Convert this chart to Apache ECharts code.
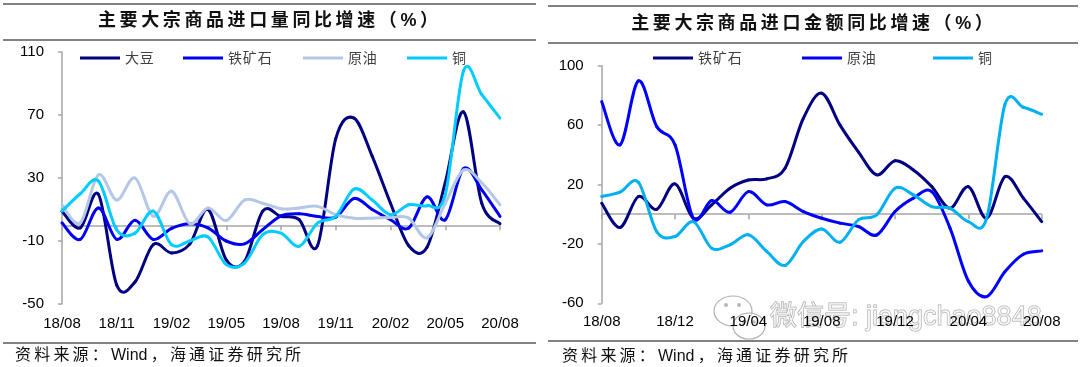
<!DOCTYPE html>
<html><head><meta charset="utf-8">
<script src="https://cdn.jsdelivr.net/npm/echarts@6/dist/echarts.min.js"></script>
<style>html,body{margin:0;padding:0;background:#fff}#c{width:1080px;height:367px}</style>
</head><body><div id="c"></div>
<script>
// ---------- data ----------
const months = ['18/08','18/09','18/10','18/11','18/12','19/01','19/02','19/03','19/04','19/05','19/06','19/07','19/08','19/09','19/10','19/11','19/12','20/01','20/02','20/03','20/04','20/05','20/06','20/07','20/08'];

// left: import volume yoy (%)
const soybeanVol = [8.9, -1.7, 19.5, -38, -36, -12.3, -17.6, -12, 10, -22, -23, 9, 5.6, 3.5, -13, 55, 68, 43.7, 14, -13, -14, 27, 72, 14, 1];
const ironVol    = [1.5, -9, 11, -9, 3.2, -9, -2, 1, -1.7, -10, -11.8, -2.8, 6, 7.3, 5.6, 5.2, 17, 10, 3.5, -1.8, 18, 3.5, 36, 22.5, 5.6];
const oilVol     = [13, 1.5, 32, 16, 30, 5.7, 21.6, 1, 11, 3, 16, 14, 10.5, 11, 12, 6.7, 4.5, 4.5, 5, 4.5, -8, 14, 35, 27, 13];
const copperVol  = [9, 20, 28, -3, -5, 9, -12.3, -10, -7.4, -25, -24, -6, -5, -13.4, 1.4, 5.6, 23, 16, 6.7, 13, 12.4, 19.4, 98, 83, 68];

// right: import value yoy (%)
const ironVal   = [7.4, -9, 11.9, 3.3, 20.4, -2.7, 6.3, 17.5, 23, 23.8, 31, 64.6, 81.5, 60, 42, 26.5, 36, 29.8, 18.6, 4, 18.6, -2.7, 25.3, 10.8, -5];
const oilVal    = [75.8, 46.7, 89.8, 59, 46.7, -2.7, 9.2, 1.3, 15.2, 6.3, 8.5, 1.8, -2.7, -6, -8.3, -14, 1.8, 10.8, 15.2, -9.4, -45, -55.5, -38.6, -27, -24.7];
const copperVal = [11.9, 14.8, 21.5, -11.7, -15, -5, -22.9, -20.6, -13.9, -25, -34.5, -18.4, -9.9, -18.9, -3.8, -0.5, 17.5, 13, 5.1, 4, -5, -2.7, 74, 72, 67.3];

// tick labels
const leftYTicks  = [-50, -10, 30, 70, 110];
const rightYTicks = [-60, -20, 20, 60, 100];

const leftTitle  = '主要大宗商品进口量同比增速（%）';
const rightTitle = '主要大宗商品进口金额同比增速（%）';
const sourceText = '资料来源：Wind，海通证券研究所';
const watermark  = '微信号: jiangchao8848';

// ---------- chart ----------
// thin space between characters when either side is CJK
function spaced(s, sp) {
  const a = Array.from(s); let out = a[0] || '';
  for (let i = 1; i < a.length; i++) {
    const wide = a[i].charCodeAt(0) > 255 || a[i-1].charCodeAt(0) > 255;
    out += (wide ? sp : '') + a[i];
  }
  return out;
}
const FONT = 'Liberation Sans, Noto Sans CJK SC, sans-serif';
const CJK = 'Noto Sans CJK SC, sans-serif';
const AX = '#a6a6a6';

function xLabelAxis(grid, interval, margin) {
  return {type:'category', gridIndex:grid, data:months, boundaryGap:false, position:'bottom',
    axisLine:{show:false, onZero:false}, axisTick:{show:false}, splitLine:{show:false},
    axisLabel:{interval:interval, margin:margin, fontSize:15, color:'#000', fontFamily:FONT}};
}
function xZeroAxis(grid, interval) {
  return {type:'category', gridIndex:grid, data:months, boundaryGap:false, position:'bottom',
    axisLine:{show:true, onZero:true, lineStyle:{color:AX, width:1.5}},
    axisTick:{show:true, interval:interval, length:5, lineStyle:{color:AX, width:1.5}},
    axisLabel:{show:false}, splitLine:{show:false}};
}
function yAxis(grid, ticks) {
  return {type:'value', gridIndex:grid, min:ticks[0], max:ticks[ticks.length-1], interval:40,
    axisLine:{show:true, lineStyle:{color:AX, width:1.5}},
    axisTick:{show:true, length:4, customValues:ticks, lineStyle:{color:AX, width:1.5}},
    axisLabel:{customValues:ticks, margin:18, fontSize:15, color:'#000', fontFamily:FONT},
    splitLine:{show:false}};
}
// Excel-like smoothed line: each segment is a cubic Bezier (Catmull-Rom tangents),
// with all positions obtained from the axes through api.coord.
function line(name, values, color, xi, yi) {
  return {type:'custom', name:name, xAxisIndex:xi, yAxisIndex:yi, z:3,
    data: values.map((v, i) => [i, v]),
    itemStyle:{color:color},
    renderItem: function (params, api) {
      const i = params.dataIndex, n = values.length;
      if (i >= n - 1) return null;
      const P = k => api.coord([Math.max(0, Math.min(n - 1, k)), values[Math.max(0, Math.min(n - 1, k))]]);
      const p0 = P(i - 1), p1 = P(i), p2 = P(i + 1), p3 = P(i + 2);
      return {type:'bezierCurve',
        shape:{x1:p1[0], y1:p1[1], x2:p2[0], y2:p2[1],
               cpx1:p1[0] + (p2[0] - p0[0]) / 6, cpy1:p1[1] + (p2[1] - p0[1]) / 6,
               cpx2:p2[0] - (p3[0] - p1[0]) / 6, cpy2:p2[1] - (p3[1] - p1[1]) / 6},
        style:{stroke:color, lineWidth:3, fill:null, lineCap:'round'}};
    }};
}
function legend(name, color, left) {
  return {data:[{name:name, itemStyle:{color:color}}], left:left, top:50, padding:0, itemGap:0,
    itemWidth:40, itemHeight:3, icon:'rect', selectedMode:false,
    formatter: n => spaced(n, '\u200a'),
    textStyle:{fontSize:14, color:'#404040', fontFamily:CJK, lineHeight:16}};
}

const C = {sb:'#000080', iron:'#0000f0', oil:'#b4c7e7', cu:'#00ccff',
           ironR:'#000080', oilR:'#0000ff', cuR:'#00b0f0'};

const ruleStyle = {stroke:'#595959', lineWidth:1.5};
const hline = (x1, x2, y) => ({type:'line', shape:{x1:x1, y1:y, x2:x2, y2:y}, style:ruleStyle, silent:true});

const option = {
  animation:false,
  backgroundColor:'#fff',
  grid:[
    {left:62, right:580, top:52, bottom:63},
    {left:601.7, right:38.3, top:65.7, bottom:63.7}
  ],
  xAxis:[ xLabelAxis(0, 2, 12.5), xZeroAxis(0, 2), xLabelAxis(1, 3, 11), xZeroAxis(1, 3) ],
  yAxis:[ yAxis(0, leftYTicks), yAxis(1, rightYTicks) ],
  legend:[
    legend('大豆', C.sb, 80), legend('铁矿石', C.iron, 183), legend('原油', C.oil, 303), legend('铜', C.cu, 407),
    legend('铁矿石', C.ironR, 653), legend('原油', C.oilR, 802), legend('铜', C.cuR, 933)
  ],
  series:[
    line('大豆', soybeanVol, C.sb, 0, 0),
    line('铁矿石', ironVol, C.iron, 0, 0),
    line('原油', oilVol, C.oil, 0, 0),
    line('铜', copperVol, C.cu, 0, 0),
    line('铁矿石', ironVal, C.ironR, 2, 1),
    line('原油', oilVal, C.oilR, 2, 1),
    line('铜', copperVal, C.cuR, 2, 1)
  ],
  graphic:[
    hline(3, 536, 4), hline(3, 536, 40), hline(3, 536, 343),
    hline(548, 1078, 6), hline(548, 1078, 43), hline(548, 1078, 341),
    {type:'text', x:268, y:21, silent:true, style:{text:spaced(leftTitle, '\u2009'), fill:'#111',
      font:'bold 18px ' + FONT, align:'center', verticalAlign:'middle'}},
    {type:'text', x:812, y:24, silent:true, style:{text:spaced(rightTitle, '\u2009'), fill:'#111',
      font:'bold 18px ' + FONT, align:'center', verticalAlign:'middle'}},
    {type:'text', x:15, y:356, silent:true, style:{text:spaced(sourceText, '\u2009'), fill:'#111',
      font:'16px ' + FONT, align:'left', verticalAlign:'middle'}},
    {type:'text', x:562, y:357, silent:true, style:{text:spaced(sourceText, '\u2009'), fill:'#111',
      font:'16px ' + FONT, align:'left', verticalAlign:'middle'}},
    // watermark
    {type:'group', silent:true, z:100, children:[
      {type:'ellipse', shape:{cx:733, cy:311, rx:19, ry:15}, style:{fill:'rgba(255,255,255,0.55)', stroke:'#b0b0b0', lineWidth:1.2}},
      {type:'ellipse', shape:{cx:749, cy:326, rx:16, ry:13}, style:{fill:'rgba(255,255,255,0.55)', stroke:'#b0b0b0', lineWidth:1.2}},
      {type:'circle', shape:{cx:726, cy:305, r:2}, style:{fill:'#b8b8b8'}},
      {type:'circle', shape:{cx:739, cy:305, r:2}, style:{fill:'#b8b8b8'}},
      {type:'circle', shape:{cx:744, cy:322, r:1.8}, style:{fill:'#b8b8b8'}},
      {type:'circle', shape:{cx:754, cy:322, r:1.8}, style:{fill:'#b8b8b8'}},
      {type:'text', x:770, y:318, style:{text:watermark, font:'27px ' + FONT,
        fill:'rgba(255,255,255,0.6)', stroke:'#a8a8a8', lineWidth:1, align:'left', verticalAlign:'middle'}}
    ]}
  ]
};

const chart = echarts.init(document.getElementById('c'), null, {renderer:'canvas'});
chart.setOption(option);
</script>
</body></html>
